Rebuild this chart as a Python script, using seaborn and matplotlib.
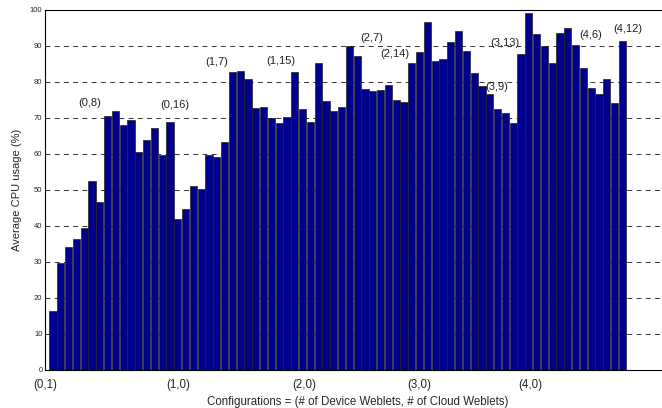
import numpy as np
import pandas as pd
import matplotlib
matplotlib.use('Agg')
import matplotlib.pyplot as plt
import seaborn as sns

# average cpu usage per configuration
cpu_usage = [16.4, 29.6, 34.2, 36.2, 39.4, 52.5, 46.7, 70.5, 71.9, 68.0,
             69.4, 60.6, 63.8, 67.0, 59.6, 68.7, 41.9, 44.6, 51.0, 50.3,
             59.6, 59.2, 63.3, 82.6, 83.1, 80.8, 72.6, 73.1, 69.8, 68.4,
             70.1, 82.8, 72.3, 68.9, 85.2, 74.6, 71.9, 73.0, 90.0, 87.2,
             78.0, 77.5, 77.7, 79.1, 74.9, 74.4, 85.3, 88.3, 96.7, 85.7,
             86.2, 91.1, 94.2, 88.5, 82.3, 78.8, 76.6, 72.3, 71.4, 68.5,
             87.7, 99.2, 93.3, 89.9, 85.3, 93.6, 94.8, 90.2, 83.8, 78.3,
             76.5, 80.8, 74.2, 91.3]
config_index = list(range(1, len(cpu_usage) + 1))

tick_pos = [0, 17, 33.2, 48, 62.2]
tick_labels = ['(0,1)', '(1,0)', '(2,0)', '(3,0)', '(4,0)']

note_labels = ['(0,8)', '(0,16)', '(1,7)', '(1,15)', '(2,7)', '(2,14)',
               '(3,13)', '(3,9)', '(4,6)', '(4,12)']
note_x = [5.74, 16.64, 22.0, 30.2, 41.9, 44.8, 58.95, 57.9, 69.9, 74.75]
note_y = [74.0, 73.5, 85.6, 85.75, 92.1, 87.6, 90.7, 78.4, 93.0, 94.6]

df = pd.DataFrame({'config': config_index, 'cpu': cpu_usage})

sns.set_style('white')
plt.rcParams['font.family'] = ['Liberation Sans', 'DejaVu Sans']

fig = plt.figure(figsize=(6.62, 4.08), dpi=100)
ax = fig.add_axes([45.2 / 662, 38.3 / 408, 624 / 662, 360 / 408])

for v in range(10, 100, 10):
    ax.axhline(v, color='#333333', lw=0.7, ls=(0, (5, 4.5)), zorder=0)

sns.barplot(data=df, x='config', y='cpu', native_scale=True, width=0.9,
            color='#00008c', saturation=1, edgecolor='#222222', linewidth=0.5,
            ax=ax, zorder=2)

for lab, xx, yy in zip(note_labels, note_x, note_y):
    ax.text(xx, yy, lab, ha='center', va='center', fontsize=8, color='#222222')

ax.set_xlim(0, 80)
ax.set_ylim(0, 100)
ax.set_xticks(tick_pos)
ax.set_xticklabels(tick_labels, fontsize=8.3)
ax.set_yticks(np.arange(0, 101, 10))
ax.set_yticklabels([str(v) for v in range(0, 101, 10)], fontsize=5.5)
ax.tick_params(axis='x', length=0, pad=7)
ax.tick_params(axis='y', direction='in', length=3, width=0.6, pad=2, left=True)
ax.set_xlabel('Configurations = (# of Device Weblets, # of Cloud Weblets)',
              fontsize=8.3, labelpad=3)
ax.set_ylabel('Average CPU usage (%)', fontsize=8, labelpad=6)

for side in ['left', 'bottom', 'top']:
    ax.spines[side].set_color('black')
    ax.spines[side].set_linewidth(0.8)
ax.spines['right'].set_visible(False)

fig.savefig('out.png', dpi=100)
